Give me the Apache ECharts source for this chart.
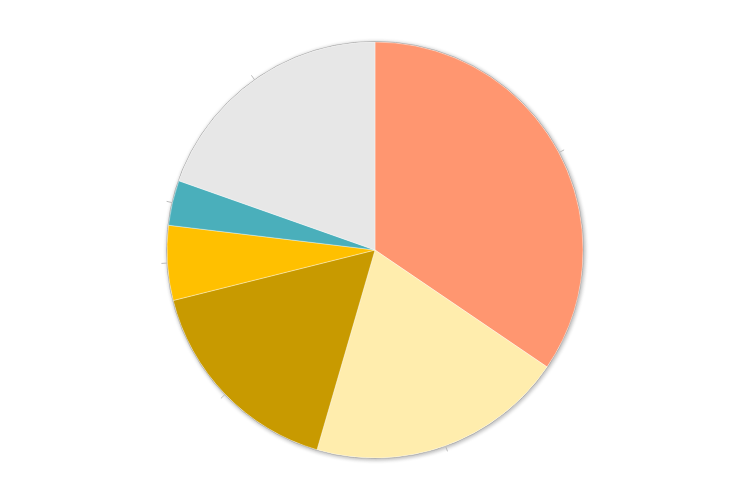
<!DOCTYPE html>
<html>
<head>
<meta charset="utf-8">
<script src="https://cdn.jsdelivr.net/npm/echarts@6/dist/echarts.min.js"></script>
<style>html,body{margin:0;padding:0;background:#fff}#c{width:750px;height:500px}</style>
</head>
<body>
<div id="c"></div>
<script>
const categories = ['A', 'B', 'C', 'D', 'E', 'F'];
const values = [34.5, 20.0, 16.6, 5.8, 3.5, 19.6];
const colors = ['#FF9670', '#FFEDAD', '#C89A00', '#FFC000', '#4AAFBB', '#E7E7E7'];

const chart = echarts.init(document.getElementById('c'));
chart.setOption({
  animation: false,
  color: colors,
  series: [{
    type: 'pie',
    silent: true,
    z: 1,
    center: [375, 250],
    radius: [0, 208.5],
    data: [{ value: 1, name: 'bg' }],
    itemStyle: {
      color: '#ffffff',
      borderColor: '#9a9a9a',
      borderWidth: 0.8,
      shadowBlur: 4,
      shadowColor: 'rgba(0,0,0,0.3)',
      shadowOffsetX: 1,
      shadowOffsetY: 1
    },
    label: { show: false },
    labelLine: { show: false },
    emphasis: { disabled: true }
  }, {
    type: 'pie',
    z: 2,
    center: [375, 250],
    radius: [0, 208],
    startAngle: 90,
    clockwise: true,
    data: categories.map((c, i) => ({ name: c, value: values[i] })),
    itemStyle: {
      borderColor: 'rgba(255,255,255,0.6)',
      borderWidth: 0.6
    },
    label: { show: true, formatter: ' ', fontSize: 1 },
    labelLine: { show: true, length: 6, length2: 0, lineStyle: { color: '#bbbbbb', width: 1 } },
    emphasis: { disabled: true }
  }]
});
</script>
</body>
</html>
